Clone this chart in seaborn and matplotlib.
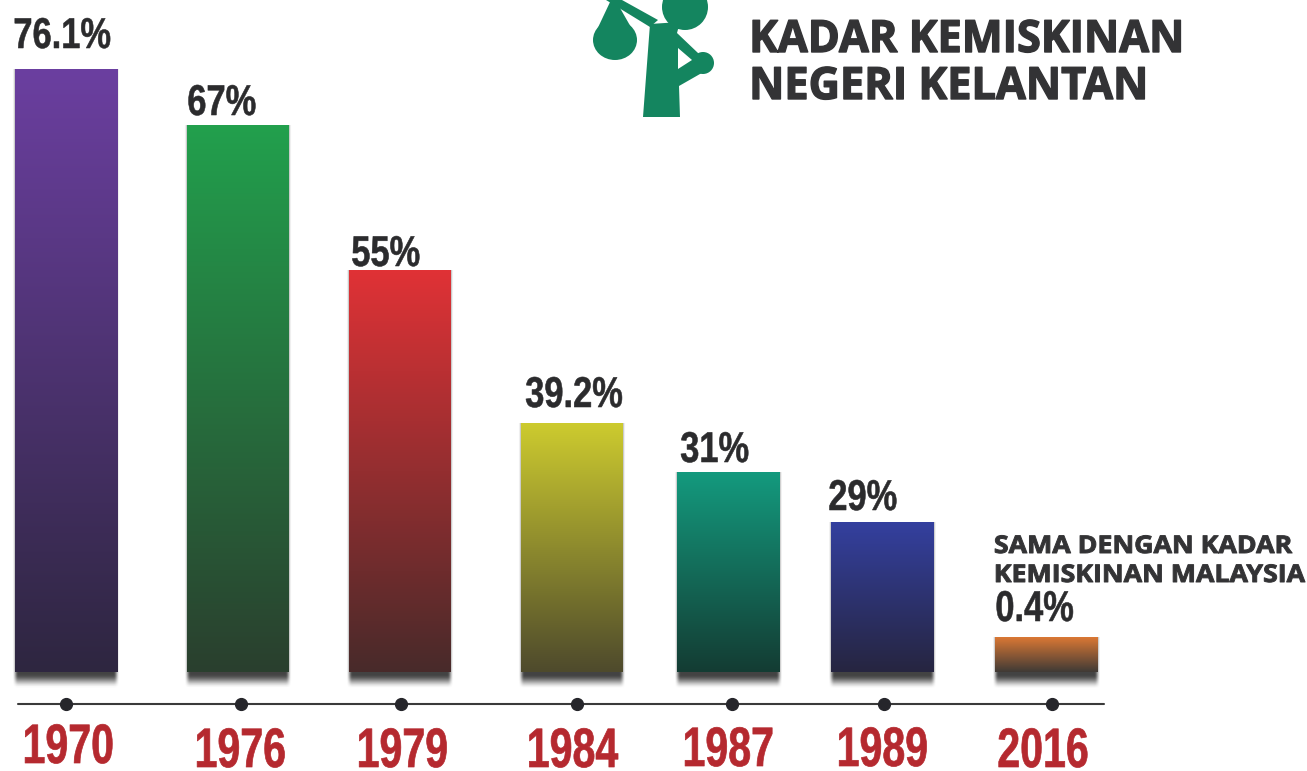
import matplotlib
matplotlib.use("Agg")
import matplotlib.pyplot as plt
from matplotlib.colors import to_rgb
from matplotlib.patches import Circle, Ellipse, Polygon
from matplotlib.patheffects import AbstractPathEffect
from matplotlib.transforms import Affine2D
import numpy as np
import pandas as pd
import seaborn as sns

years = ["1970", "1976", "1979", "1984", "1987", "1989", "2016"]
rate_labels = ["76.1%", "67%", "55%", "39.2%", "31%", "29%", "0.4%"]
# bar lengths do not follow the printed rates in the source, so read them off it
bar_heights = [603, 547, 402, 249, 200, 150, 34]
top_colors = ["#6B3FA0", "#22A04D", "#E03236", "#CDCB2F", "#139A7E", "#34409F", "#DB7834"]
bottom_colors = ["#2E2640", "#2A3F2E", "#482A2A", "#4E4A2C", "#143C33", "#262540", "#3F3A36"]

W, H = 1307, 771
BASELINE = 672
SLOT = 163
FIRST = 66

# nudges in px from the even category spacing
bar_nudge = [0, 9, 8, 17, 10, 1, 2]
label_left = [13, 187, 351, 525, 680, 828, 995]
label_gap = [21, 10, 4, 16, 10, 12, 17]
year_x = [68, 240, 402, 572, 728, 882, 1043]
year_base = [763, 767, 767, 767, 766, 766, 767]
dot_x = [66, 241, 401, 577, 732, 884, 1052]

NARROW = ["Liberation Sans", "DejaVu Sans"]


class Squeeze(AbstractPathEffect):
    """Narrow or widen glyphs on the x axis and fatten the strokes."""

    def __init__(self, sx, stroke=0.0, center=False):
        super().__init__()
        self.sx = sx
        self.stroke = stroke
        self.center = center

    def draw_path(self, renderer, gc, tpath, affine, rgbFace=None):
        ext = affine.transform_path(tpath).get_extents()
        x0 = (ext.x0 + ext.x1) / 2 if self.center else ext.x0
        squeezed = affine + Affine2D().translate(-x0, 0).scale(self.sx, 1).translate(x0, 0)
        gc0 = renderer.new_gc()
        gc0.copy_properties(gc)
        if self.stroke:
            gc0.set_foreground(rgbFace)
            gc0.set_linewidth(self.stroke)
        renderer.draw_path(gc0, tpath, squeezed, rgbFace)
        gc0.restore()


sns.set_theme(style="white")
plt.rcParams["font.family"] = ["Open Sans", "DejaVu Sans"]

df = pd.DataFrame({"year": years, "height": bar_heights})

fig = plt.figure(figsize=(W / 100, H / 100), dpi=100, facecolor="white")
ax = fig.add_axes([0, 0, 1, 1])
sns.barplot(
    data=df,
    x="year",
    y="height",
    hue="year",
    palette=top_colors,
    legend=False,
    width=102 / SLOT,
    ax=ax,
)
xlim = (-FIRST / SLOT, (W - FIRST) / SLOT)
ylim = (BASELINE - H, BASELINE)
ax.axis("off")


def px_w(value):
    return value / SLOT


def smooth(t):
    t = np.clip(t, 0, 1)
    return t * t * (3 - 2 * t)


def draw_shadow(left, right, top):
    # soft dark blur sitting a little under the bar
    pad = 14
    xs = np.linspace(left - px_w(pad), right + px_w(pad), 120)
    ys = np.linspace(top, -26, 300)
    edge_x = smooth((xs - left + px_w(3)) / px_w(6)) * smooth((right + px_w(3) - xs) / px_w(6))
    edge_y = smooth((ys + 17) / 14)
    img = np.zeros((300, 120, 4))
    img[..., :3] = 0.13
    img[..., 3] = np.outer(edge_y, edge_x) * 0.85
    ax.imshow(img, extent=(xs[0], xs[-1], -26, top), origin="upper", aspect="auto", zorder=1,
              interpolation="bilinear")


bars = list(ax.patches)
for i, bar in enumerate(bars):
    bar.set_x(bar.get_x() + px_w(bar_nudge[i]))
    left, right = bar.get_x(), bar.get_x() + bar.get_width()
    top = bar.get_height()
    draw_shadow(left, right, top)
    bar.set_zorder(2)
    bar.set_edgecolor("none")

    ramp = np.linspace(0, 1, 256)[:, None, None]
    grad = (1 - ramp) * np.array(to_rgb(top_colors[i])) + ramp * np.array(to_rgb(bottom_colors[i]))
    ax.imshow(grad, extent=(left, right, 0, top), origin="upper", aspect="auto", zorder=3)

    label_x = (label_left[i] - FIRST) / SLOT
    ax.text(label_x, top + label_gap[i], rate_labels[i], ha="left", va="baseline", fontsize=31,
            fontweight="bold", family=NARROW, color="#2B2B2D", zorder=5,
            path_effects=[Squeeze(0.80, 0.4)])

ax.set_xlim(*xlim)
ax.set_ylim(*ylim)

# overlay in image pixels for axis rule, title and icon
over = fig.add_axes([0, 0, 1, 1], facecolor="none")
over.set_xlim(0, W)
over.set_ylim(H, 0)
over.axis("off")

over.plot([18, 1104], [704, 704], color="#3A3A3A", lw=1.5, zorder=2)
over.plot(dot_x, [704] * len(dot_x), "o", color="#26262B", ms=8.5, zorder=3)
for x, base, year in zip(year_x, year_base, years):
    over.text(x, base, year, ha="center", va="baseline", fontsize=40, fontweight="bold",
              family=NARROW, color="#B5292F", path_effects=[Squeeze(0.74, 0.5, center=True)])

title_fx = [Squeeze(0.975, 1.0)]
over.text(749, 52, "KADAR KEMISKINAN", fontsize=32, fontweight="bold", color="#333335",
          va="baseline", path_effects=title_fx)
over.text(749, 99, "NEGERI KELANTAN", fontsize=32, fontweight="bold", color="#333335",
          va="baseline", path_effects=title_fx)
note_fx = [Squeeze(1.10, 0.7)]
over.text(994, 553, "SAMA DENGAN KADAR", fontsize=17.5, fontweight="bold", color="#333335",
          va="baseline", path_effects=note_fx)
over.text(994, 582, "KEMISKINAN MALAYSIA", fontsize=17.5, fontweight="bold", color="#333335",
          va="baseline", path_effects=note_fx)

green = "#14855F"
over.add_patch(Polygon([(643, 117), (680, 117), (679, 86), (707, 70), (698, 53), (677, 33),
                        (680, 22), (650, 24)], closed=True, color=green, lw=0))
over.add_patch(Polygon([(678, 48), (692, 60), (678, 69)], closed=True, color="white", lw=0, zorder=3))
over.add_patch(Circle((703, 63), 11, color=green, lw=0))
over.add_patch(Circle((685, 7), 23, color=green, lw=0))
over.add_patch(Ellipse((615, 40), 44, 40, color=green, lw=0))
over.add_patch(Polygon([(594, 36), (611, 0), (620, 8), (636, 36)], closed=True, color=green, lw=0))
over.add_patch(Polygon([(606, 0), (622, 0), (658, 20), (650, 27)], closed=True, color=green, lw=0))
over.set_xlim(0, W)
over.set_ylim(H, 0)

fig.savefig("out.png", dpi=100)
plt.close(fig)
